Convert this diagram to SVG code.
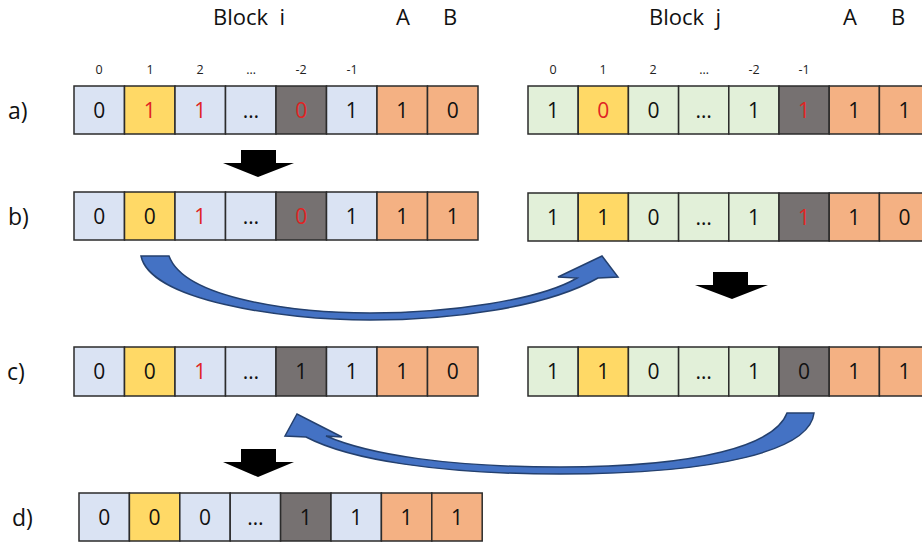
<svg xmlns="http://www.w3.org/2000/svg" width="922" height="545" viewBox="0 0 922 545">
<style>
.c{stroke:#2b2b2b;stroke-width:1.5}
.lb{fill:#DAE3F3}.lg{fill:#E2F0D9}.y{fill:#FFD966}.g{fill:#767171}.o{fill:#F4B183}
.t{font-family:"Open Sans","Liberation Sans",sans-serif;font-size:21px;fill:#111;text-anchor:middle}
.r{fill:#E02424}
.ix{font-family:"Open Sans","Liberation Sans",sans-serif;font-size:12.5px;fill:#222;text-anchor:middle}
.h{font-family:"Open Sans","Liberation Sans",sans-serif;font-size:22px;fill:#111;text-anchor:middle}
.lbl{font-family:"Open Sans","Liberation Sans",sans-serif;font-size:23px;fill:#111}
.blk{fill:#000}
.blue{fill:#4472C4;stroke:#24406E;stroke-width:1.5;stroke-linejoin:miter}
</style>
<rect width="922" height="545" fill="#fff"/>
<g id="headers">
<text class="h" x="249" y="25" xml:space="preserve">Block  i</text>
<text class="h" x="403" y="25">A</text>
<text class="h" x="450" y="25">B</text>
<text class="h" x="685" y="25" xml:space="preserve">Block  j</text>
<text class="h" x="850" y="25">A</text>
<text class="h" x="898" y="25">B</text>
</g>
<g id="index-left">
<text class="ix" x="99" y="74">0</text>
<text class="ix" x="150" y="74">1</text>
<text class="ix" x="200" y="74">2</text>
<text class="ix" x="251" y="74">…</text>
<text class="ix" x="301" y="74">-2</text>
<text class="ix" x="352" y="74">-1</text>
</g>
<g id="index-right">
<text class="ix" x="553" y="74">0</text>
<text class="ix" x="603" y="74">1</text>
<text class="ix" x="653" y="74">2</text>
<text class="ix" x="704" y="74">…</text>
<text class="ix" x="754" y="74">-2</text>
<text class="ix" x="804" y="74">-1</text>
</g>
<g id="row-labels">
<text class="lbl" x="8" y="119">a)</text>
<text class="lbl" x="8" y="225">b)</text>
<text class="lbl" x="7" y="380">c)</text>
<text class="lbl" x="12" y="526">d)</text>
</g>
<g id="row-a-i">
<rect class="c lb" x="74" y="86" width="50.5" height="48"/>
<rect class="c y" x="124.5" y="86" width="50.5" height="48"/>
<rect class="c lb" x="175" y="86" width="50.5" height="48"/>
<rect class="c lb" x="225.5" y="86" width="50.5" height="48"/>
<rect class="c g" x="276" y="86" width="50.5" height="48"/>
<rect class="c lb" x="326.5" y="86" width="50.5" height="48"/>
<rect class="c o" x="377" y="86" width="50.5" height="48"/>
<rect class="c o" x="427.5" y="86" width="50.5" height="48"/>
<text class="t" x="99.3" y="117.5">0</text>
<text class="t r" x="149.8" y="117.5">1</text>
<text class="t r" x="200.3" y="117.5">1</text>
<text class="t" x="250.8" y="117.5">…</text>
<text class="t r" x="301.3" y="117.5">0</text>
<text class="t" x="351.8" y="117.5">1</text>
<text class="t" x="402.3" y="117.5">1</text>
<text class="t" x="452.8" y="117.5">0</text>
</g>
<g id="row-a-j">
<rect class="c lg" x="528" y="86" width="50.2" height="48"/>
<rect class="c y" x="578.2" y="86" width="50.2" height="48"/>
<rect class="c lg" x="628.4" y="86" width="50.2" height="48"/>
<rect class="c lg" x="678.6" y="86" width="50.2" height="48"/>
<rect class="c lg" x="728.8" y="86" width="50.2" height="48"/>
<rect class="c g" x="779" y="86" width="50.2" height="48"/>
<rect class="c o" x="829.2" y="86" width="50.2" height="48"/>
<rect class="c o" x="879.4" y="86" width="50.2" height="48"/>
<text class="t" x="553.1" y="117.5">1</text>
<text class="t r" x="603.3" y="117.5">0</text>
<text class="t" x="653.5" y="117.5">0</text>
<text class="t" x="703.7" y="117.5">…</text>
<text class="t" x="753.9" y="117.5">1</text>
<text class="t r" x="804.1" y="117.5">1</text>
<text class="t" x="854.3" y="117.5">1</text>
<text class="t" x="904.5" y="117.5">1</text>
</g>
<g id="row-b-i">
<rect class="c lb" x="74" y="192" width="50.5" height="48"/>
<rect class="c y" x="124.5" y="192" width="50.5" height="48"/>
<rect class="c lb" x="175" y="192" width="50.5" height="48"/>
<rect class="c lb" x="225.5" y="192" width="50.5" height="48"/>
<rect class="c g" x="276" y="192" width="50.5" height="48"/>
<rect class="c lb" x="326.5" y="192" width="50.5" height="48"/>
<rect class="c o" x="377" y="192" width="50.5" height="48"/>
<rect class="c o" x="427.5" y="192" width="50.5" height="48"/>
<text class="t" x="99.3" y="223.5">0</text>
<text class="t" x="149.8" y="223.5">0</text>
<text class="t r" x="200.3" y="223.5">1</text>
<text class="t" x="250.8" y="223.5">…</text>
<text class="t r" x="301.3" y="223.5">0</text>
<text class="t" x="351.8" y="223.5">1</text>
<text class="t" x="402.3" y="223.5">1</text>
<text class="t" x="452.8" y="223.5">1</text>
</g>
<g id="row-b-j">
<rect class="c lg" x="528" y="193" width="50.2" height="48"/>
<rect class="c y" x="578.2" y="193" width="50.2" height="48"/>
<rect class="c lg" x="628.4" y="193" width="50.2" height="48"/>
<rect class="c lg" x="678.6" y="193" width="50.2" height="48"/>
<rect class="c lg" x="728.8" y="193" width="50.2" height="48"/>
<rect class="c g" x="779" y="193" width="50.2" height="48"/>
<rect class="c o" x="829.2" y="193" width="50.2" height="48"/>
<rect class="c o" x="879.4" y="193" width="50.2" height="48"/>
<text class="t" x="553.1" y="224.5">1</text>
<text class="t" x="603.3" y="224.5">1</text>
<text class="t" x="653.5" y="224.5">0</text>
<text class="t" x="703.7" y="224.5">…</text>
<text class="t" x="753.9" y="224.5">1</text>
<text class="t r" x="804.1" y="224.5">1</text>
<text class="t" x="854.3" y="224.5">1</text>
<text class="t" x="904.5" y="224.5">0</text>
</g>
<g id="row-c-i">
<rect class="c lb" x="74" y="347" width="50.5" height="49"/>
<rect class="c y" x="124.5" y="347" width="50.5" height="49"/>
<rect class="c lb" x="175" y="347" width="50.5" height="49"/>
<rect class="c lb" x="225.5" y="347" width="50.5" height="49"/>
<rect class="c g" x="276" y="347" width="50.5" height="49"/>
<rect class="c lb" x="326.5" y="347" width="50.5" height="49"/>
<rect class="c o" x="377" y="347" width="50.5" height="49"/>
<rect class="c o" x="427.5" y="347" width="50.5" height="49"/>
<text class="t" x="99.3" y="379">0</text>
<text class="t" x="149.8" y="379">0</text>
<text class="t r" x="200.3" y="379">1</text>
<text class="t" x="250.8" y="379">…</text>
<text class="t" x="301.3" y="379">1</text>
<text class="t" x="351.8" y="379">1</text>
<text class="t" x="402.3" y="379">1</text>
<text class="t" x="452.8" y="379">0</text>
</g>
<g id="row-c-j">
<rect class="c lg" x="528" y="347" width="50.2" height="49"/>
<rect class="c y" x="578.2" y="347" width="50.2" height="49"/>
<rect class="c lg" x="628.4" y="347" width="50.2" height="49"/>
<rect class="c lg" x="678.6" y="347" width="50.2" height="49"/>
<rect class="c lg" x="728.8" y="347" width="50.2" height="49"/>
<rect class="c g" x="779" y="347" width="50.2" height="49"/>
<rect class="c o" x="829.2" y="347" width="50.2" height="49"/>
<rect class="c o" x="879.4" y="347" width="50.2" height="49"/>
<text class="t" x="553.1" y="379">1</text>
<text class="t" x="603.3" y="379">1</text>
<text class="t" x="653.5" y="379">0</text>
<text class="t" x="703.7" y="379">…</text>
<text class="t" x="753.9" y="379">1</text>
<text class="t" x="804.1" y="379">0</text>
<text class="t" x="854.3" y="379">1</text>
<text class="t" x="904.5" y="379">1</text>
</g>
<g id="row-d-i">
<rect class="c lb" x="79" y="493" width="50.4" height="48"/>
<rect class="c y" x="129.4" y="493" width="50.4" height="48"/>
<rect class="c lb" x="179.8" y="493" width="50.4" height="48"/>
<rect class="c lb" x="230.2" y="493" width="50.4" height="48"/>
<rect class="c g" x="280.6" y="493" width="50.4" height="48"/>
<rect class="c lb" x="331" y="493" width="50.4" height="48"/>
<rect class="c o" x="381.4" y="493" width="50.4" height="48"/>
<rect class="c o" x="431.8" y="493" width="50.4" height="48"/>
<text class="t" x="104.2" y="524.5">0</text>
<text class="t" x="154.6" y="524.5">0</text>
<text class="t" x="205" y="524.5">0</text>
<text class="t" x="255.4" y="524.5">…</text>
<text class="t" x="305.8" y="524.5">1</text>
<text class="t" x="356.2" y="524.5">1</text>
<text class="t" x="406.6" y="524.5">1</text>
<text class="t" x="457" y="524.5">1</text>
</g>
<g id="connectors">
<polygon class="blk" points="241,150 276,150 276,163 294,163 258,177 223,163 241,163"/>
<polygon class="blk" points="713,272 748,272 748,285 768,285 732,299 695,285 713,285"/>
<polygon class="blk" points="241,449 276,449 276,462 294,462 258,477 223,462 241,462"/>
<path class="blue" d="M141,256 L169,256 C185,300 300,313 370,313 C450,313 540,300 577,278 L558,277 L602,256 L618,277 L598,278 C545,308 450,320 370,320 C280,320 150,300 141,256 Z"/>
<path class="blue" d="M814,413 L787,413 C775,445 700,467 560,467 C450,467 370,455 326,436 L342,437 L297,414 L285,436 L306,437 C350,460 440,474 560,474 C720,474 810,450 814,413 Z"/>
</g>
</svg>
